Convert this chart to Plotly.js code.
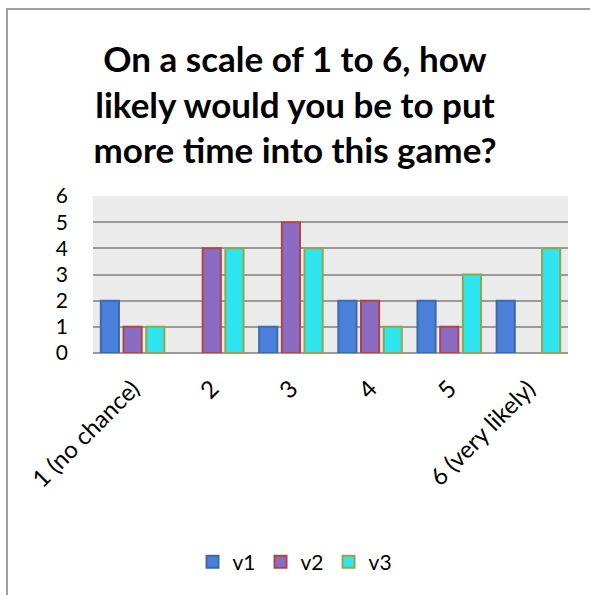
<!DOCTYPE html>
<html>
<head>
<meta charset="utf-8">
<script src="https://cdn.plot.ly/plotly-3.0.1.min.js"></script>
<style>
  html, body { margin: 0; padding: 0; background: #fff; }
  #frame { position: absolute; left: 6px; top: 8px; width: 620px; height: 620px;
           border-left: 2px solid #a0a0a0; border-top: 2px solid #a0a0a0; box-sizing: border-box; }
  #chart { position: absolute; left: 0; top: 0; width: 590px; height: 595px; }
</style>
</head>
<body>
<div id="frame"></div>
<div id="chart"></div>
<script>
const categories = ["1 (no chance)", "2", "3", "4", "5", "6 (very likely)"];
const v1 = [2, 0, 1, 2, 2, 2];
const v2 = [1, 4, 5, 2, 1, 0];
const v3 = [1, 4, 4, 1, 3, 4];
const seriesNames = ["v1", "v2", "v3"];
const yTicks = [0, 1, 2, 3, 4, 5, 6];

const fills = ["#4a7fda", "#8a6cc4", "#2ee5f0"];
const borders = ["#3c6aaa", "#b04545", "#8fa84e"];
const values = [v1, v2, v3];

const traces = values.map((vals, i) => ({
  type: "bar",
  name: seriesNames[i],
  x: categories,
  y: vals,
  marker: {
    color: fills[i],
    line: { color: borders[i], width: vals.map(v => (v === 0 ? 0 : 2)) }
  },
  hoverinfo: "x+y+name"
}));

const layout = {
  width: 590, height: 595,
  paper_bgcolor: "rgba(0,0,0,0)",
  plot_bgcolor: "#ebebeb",
  margin: { l: 93, r: 22, t: 196, b: 242 },
  font: { family: "Lato, 'Open Sans', sans-serif", color: "#000" },
  title: {
    text: "On a scale of 1 to 6, how<br>likely would you be to put<br>more time into this game?",
    font: { size: 35, family: "Lato", weight: 700, color: "#000" },
    x: 0.5, xanchor: "center", xref: "container",
    y: 1 - 72 / 595, yanchor: "top", yref: "container"
  },
  barmode: "group",
  bargap: 0.14,
  bargroupgap: 0.2,
  xaxis: {
    type: "category",
    tickangle: -45,
    tickfont: { size: 24 },
    showgrid: false,
    showline: false,
    ticks: "",
    ticklabelstandoff: 16,
    fixedrange: true
  },
  yaxis: {
    range: [0, 6],
    tickvals: yTicks,
    tickfont: { size: 21 },
    showgrid: true,
    gridcolor: "#9a9a9a",
    gridwidth: 1.5,
    zeroline: true,
    zerolinecolor: "#9a9a9a",
    zerolinewidth: 1.5,
    showline: false,
    ticks: "",
    ticklabelstandoff: 24,
    fixedrange: true
  },
  showlegend: true,
  legend: {
    orientation: "h",
    x: 0.5, xanchor: "center", xref: "container",
    y: 1 - 562 / 595, yanchor: "middle", yref: "container",
    font: { size: 21 },
    itemwidth: 30,
    traceorder: "normal"
  }
};

Plotly.newPlot("chart", traces, layout, { displayModeBar: false });
</script>
</body>
</html>
